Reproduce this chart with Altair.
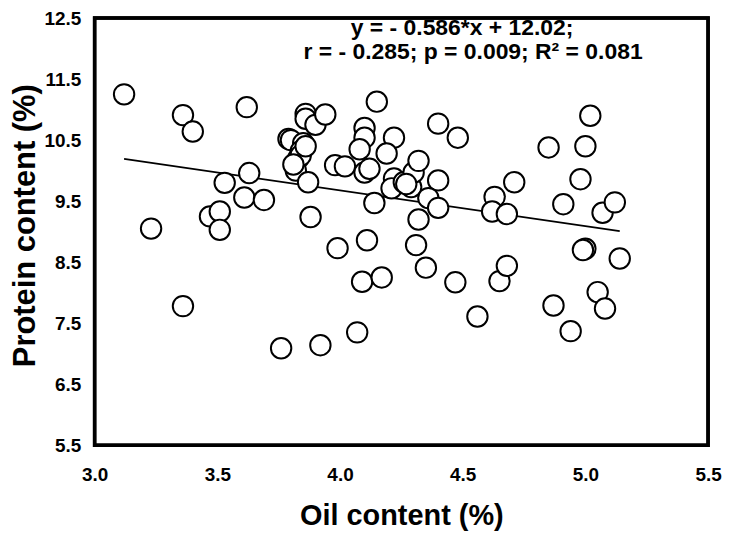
import altair as alt
import pandas as pd

oil = [3.12, 3.36, 3.40, 3.23, 3.36, 3.47, 3.51, 3.51, 3.53, 3.62,
       3.63, 3.61, 3.69, 3.76, 3.92, 3.79, 3.80, 3.85, 3.84, 3.83,
       3.82, 3.87, 3.86, 3.86, 3.90, 3.94, 3.88, 3.99, 3.98, 4.02,
       4.10, 4.10, 4.08, 4.10, 4.12, 4.14, 4.11, 4.07, 4.09, 4.17,
       4.15, 4.22, 4.19, 4.22, 4.21, 4.26, 4.29, 4.30, 4.32, 4.40,
       4.36, 4.40, 4.32, 4.31, 4.35, 4.47, 4.40, 4.48, 4.56, 4.65,
       4.68, 4.63, 4.62, 4.68, 4.71, 4.85, 5.02, 5.00, 4.98, 4.91,
       5.07, 5.12, 5.00, 4.99, 5.14, 4.87, 4.94, 5.05, 5.08, 3.84,
       3.86, 4.27, 3.81]
protein = [11.25, 10.91, 10.64, 9.05, 7.78, 9.25, 9.33, 9.03, 9.80, 11.04,
           9.96, 9.56, 9.52, 7.09, 7.14, 10.52, 10.50, 10.45, 10.32, 10.20,
           10.00, 9.81, 10.93, 10.85, 10.75, 10.92, 9.24, 8.73, 10.09, 10.07,
           10.70, 10.54, 10.35, 9.97, 10.03, 9.47, 8.86, 7.35, 8.18, 8.25,
           11.13, 10.54, 10.28, 9.87, 9.71, 9.81, 9.73, 9.97, 10.16, 9.84,
           9.55, 9.39, 9.20, 8.78, 8.41, 8.17, 10.77, 10.54, 7.61, 8.19,
           8.44, 9.57, 9.33, 9.29, 9.81, 10.38, 10.90, 10.40, 9.86, 9.45,
           9.31, 9.48, 8.72, 8.70, 8.56, 7.79, 7.37, 8.01, 7.74, 10.25,
           10.40, 9.78, 10.10]

slope = -0.586
intercept = 12.02
eq_lines = ["y = - 0.586*x + 12.02;", "r = - 0.285; p = 0.009; R\u00b2 = 0.081"]
x_ticks = [3.0, 3.5, 4.0, 4.5, 5.0, 5.5]
y_ticks = [5.5, 6.5, 7.5, 8.5, 9.5, 10.5, 11.5, 12.5]

pts = pd.DataFrame({"oil": oil, "protein": protein})
fx = [min(oil), max(oil)]
fit = pd.DataFrame({"oil": fx, "protein": [intercept + slope * v for v in fx]})

FONT = "Liberation Sans"
W, H = 616, 429

xscale = alt.Scale(domain=[3.0, 5.5], nice=False, zero=False)
yscale = alt.Scale(domain=[5.5, 12.5], nice=False, zero=False)

xaxis = alt.Axis(values=x_ticks, format=".1f", grid=False, ticks=False, domain=False,
                 labelFont=FONT, labelFontSize=19, labelFontWeight="bold", labelColor="black",
                 labelPadding=20, labelFlush=False,
                 title="Oil content (%)", titleFont=FONT, titleFontSize=29, titleFontWeight="bold",
                 titleColor="black", titleBaseline="alphabetic", titleY=80)
yaxis = alt.Axis(values=y_ticks, format=".1f", grid=False, ticks=False, domain=False,
                 labelFont=FONT, labelFontSize=19, labelFontWeight="bold", labelColor="black",
                 labelPadding=14, labelFlush=False,
                 title="Protein content (%)", titleFont=FONT, titleFontSize=31, titleFontWeight="bold",
                 titleColor="black", titleAngle=270, titleBaseline="middle", titleAlign="center",
                 titleX=-69, titleY=208)

frame = alt.Chart(pd.DataFrame({"f": [0]})).mark_rect(
    fill="white", fillOpacity=0, stroke="black", strokeWidth=3.5, strokeOpacity=1
).encode(x=alt.value(0), x2=alt.value(W), y=alt.value(0), y2=alt.value(H))

line = alt.Chart(fit).mark_line(color="black", strokeWidth=1.8).encode(
    x=alt.X("oil:Q", scale=xscale, axis=xaxis),
    y=alt.Y("protein:Q", scale=yscale, axis=yaxis),
)

points = alt.Chart(pts).mark_point(shape="circle", filled=True, fill="white", stroke="black",
                                   strokeWidth=2, size=420, opacity=1).encode(
    x=alt.X("oil:Q", scale=xscale),
    y=alt.Y("protein:Q", scale=yscale),
)

ann1 = alt.Chart(pd.DataFrame({"t": [eq_lines[0]]})).mark_text(
    font=FONT, fontSize=23, fontWeight="bold", color="black", align="center", baseline="middle"
).encode(text="t:N", x=alt.value(369), y=alt.value(10))
ann2 = alt.Chart(pd.DataFrame({"t": [eq_lines[1]]})).mark_text(
    font=FONT, fontSize=23, fontWeight="bold", color="black", align="center", baseline="middle"
).encode(text="t:N", x=alt.value(380), y=alt.value(34))

chart = alt.layer(line, points, ann1, ann2, frame).properties(
    width=W, height=H,
    background="white",
    autosize=alt.AutoSizeParams(type="none"),
    padding={"left": 87, "top": 9, "right": 17, "bottom": 87},
).configure_view(stroke="black", strokeWidth=3.5)

chart.save("out.html", embed_options={"renderer": "svg", "actions": False})
